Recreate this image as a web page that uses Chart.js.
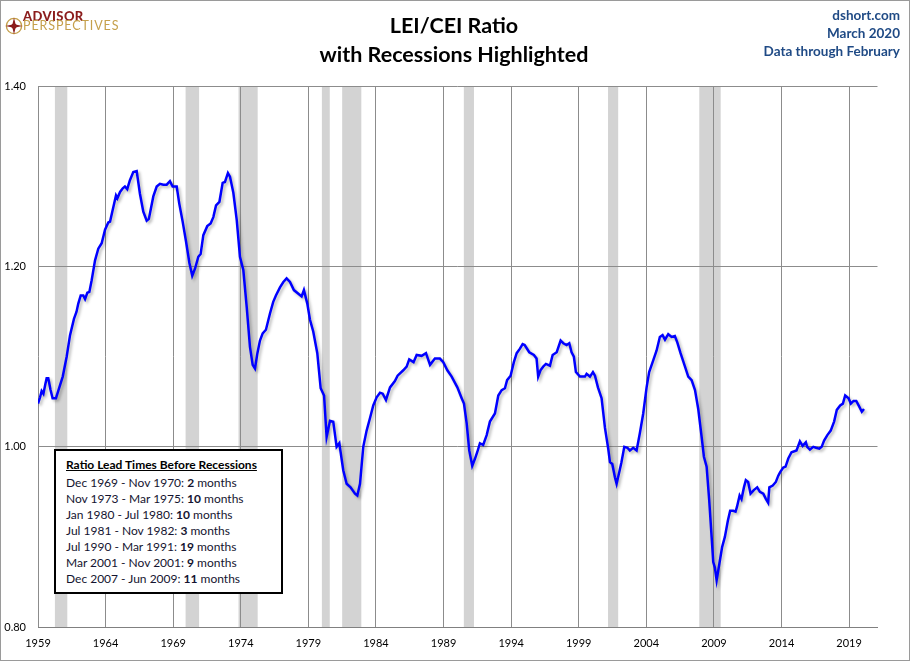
<!DOCTYPE html>
<html>
<head>
<meta charset="utf-8">
<script src="https://cdn.jsdelivr.net/npm/chart.js@4.4.1/dist/chart.umd.min.js"></script>
<style>
  html, body { margin: 0; padding: 0; background: #fff; }
  #wrap { position: relative; width: 910px; height: 661px; overflow: hidden; font-family: Lato, "Noto Sans", sans-serif; }
  #frame { position: absolute; left: 0; top: 0; width: 910px; height: 661px; box-sizing: border-box; border: 1px solid #9a9a9a; pointer-events: none; }
  #title { position: absolute; left: 0; top: 11px; width: 908px; text-align: center; font-size: 21.5px; font-weight: bold; line-height: 29px; color: #000; }
  #info { position: absolute; right: 10px; top: 6px; text-align: right; font-size: 13.5px; font-weight: bold; line-height: 18px; color: #1f4a85; }
  #logo { position: absolute; left: 0; top: 0; width: 140px; height: 40px; }
  #logo svg { position: absolute; left: 5px; top: 17px; }
  #logo .a { position: absolute; left: 23px; top: 9px; font-size: 13px; font-weight: 900; color: #8b1c1c; letter-spacing: 0.4px; white-space: nowrap; line-height: 14px; }
  #logo .p { position: absolute; left: 23px; top: 19px; font-size: 12.5px; color: #c5a04c; letter-spacing: 0.9px; white-space: nowrap; line-height: 14px; }
  #lead { position: absolute; left: 54px; top: 449px; width: 229px; height: 145px; box-sizing: border-box; border: 2px solid #000; background: #fff; padding: 6px 0 0 10px; font-size: 12px; line-height: 16px; color: #141430; }
  #lead .h { font-weight: bold; text-decoration: underline; color: #000; margin-bottom: 1.5px; }
  canvas { position: absolute; left: 0; top: 0; }
</style>
</head>
<body>
<div id="wrap">
  <canvas id="leiCei" width="910" height="661"></canvas>
  <div id="logo">
    <svg width="18" height="18" viewBox="0 0 18 18">
      <circle cx="9" cy="9" r="7.6" fill="none" stroke="#c5a04c" stroke-width="1.4"/>
      <polygon points="9,0.5 10.6,7.4 17.5,9 10.6,10.6 9,17.5 7.4,10.6 0.5,9 7.4,7.4" fill="#8b1c1c"/>
      <circle cx="9" cy="9" r="2.6" fill="#8b1c1c"/>
    </svg>
    <div class="a">ADVISOR</div>
    <div class="p">PERSPECTIVES</div>
  </div>
  <div id="title">LEI/CEI Ratio<br>with Recessions Highlighted</div>
  <div id="info">dshort.com<br>March 2020<br>Data through February</div>
  <div id="lead">
    <div class="h">Ratio Lead Times Before Recessions</div>
    <div>Dec 1969 - Nov 1970: <b>2</b> months</div>
    <div>Nov 1973 - Mar 1975: <b>10</b> months</div>
    <div>Jan 1980 - Jul 1980: <b>10</b> months</div>
    <div>Jul 1981 - Nov 1982: <b>3</b> months</div>
    <div>Jul 1990 - Mar 1991: <b>19</b> months</div>
    <div>Mar 2001 - Nov 2001: <b>9</b> months</div>
    <div>Dec 2007 - Jun 2009: <b>11</b> months</div>
  </div>
  <div id="frame"></div>
</div>
<script>
// dates as decimal years
var dates = [
  1959.00, 1959.15, 1959.27, 1959.40, 1959.55, 1959.64, 1959.76, 1959.93, 1960.08, 1960.33,
  1960.58, 1960.83, 1961.12, 1961.37, 1961.66, 1961.85, 1961.98, 1962.16, 1962.35, 1962.48,
  1962.65, 1962.80, 1962.97, 1963.22, 1963.46, 1963.71, 1963.96, 1964.20, 1964.33, 1964.57,
  1964.77, 1964.87, 1965.07, 1965.27, 1965.43, 1965.60, 1965.80, 1966.05, 1966.30, 1966.54,
  1966.79, 1967.04, 1967.20, 1967.53, 1967.78, 1968.02, 1968.27, 1968.52, 1968.76, 1968.96,
  1969.26, 1969.45, 1969.70, 1969.95, 1970.20, 1970.41, 1970.62, 1970.86, 1971.03, 1971.23,
  1971.52, 1971.77, 1971.97, 1972.17, 1972.42, 1972.66, 1972.83, 1973.05, 1973.20, 1973.45,
  1973.70, 1973.94, 1974.19, 1974.44, 1974.68, 1974.88, 1975.05, 1975.23, 1975.42, 1975.62,
  1975.86, 1976.16, 1976.40, 1976.60, 1976.90, 1977.15, 1977.39, 1977.64, 1977.93, 1978.26,
  1978.50, 1978.67, 1978.92, 1979.12, 1979.36, 1979.66, 1979.91, 1980.16, 1980.35, 1980.60,
  1980.84, 1981.09, 1981.29, 1981.58, 1981.83, 1982.12, 1982.45, 1982.62, 1982.82, 1983.06,
  1983.31, 1983.56, 1983.80, 1984.05, 1984.30, 1984.50, 1984.74, 1985.04, 1985.40, 1985.60,
  1986.02, 1986.27, 1986.46, 1986.78, 1987.01, 1987.38, 1987.70, 1988.00, 1988.36, 1988.73,
  1988.98, 1989.28, 1989.60, 1990.02, 1990.34, 1990.51, 1990.71, 1990.90, 1991.12, 1991.33,
  1991.49, 1991.69, 1991.93, 1992.19, 1992.43, 1992.80, 1993.05, 1993.30, 1993.54, 1993.70,
  1993.96, 1994.20, 1994.41, 1994.65, 1994.85, 1995.00, 1995.34, 1995.68, 1995.88, 1996.00,
  1996.17, 1996.37, 1996.57, 1996.87, 1997.07, 1997.37, 1997.66, 1997.86, 1998.10, 1998.30,
  1998.47, 1998.64, 1998.79, 1999.09, 1999.46, 1999.58, 1999.83, 2000.05, 2000.20, 2000.42,
  2000.69, 2000.94, 2001.18, 2001.31, 2001.48, 2001.68, 2001.80, 2002.00, 2002.16, 2002.37,
  2002.60, 2002.78, 2003.03, 2003.28, 2003.52, 2003.77, 2004.02, 2004.21, 2004.51, 2004.76,
  2005.00, 2005.20, 2005.38, 2005.62, 2005.87, 2006.11, 2006.29, 2006.53, 2006.86, 2007.10,
  2007.35, 2007.60, 2007.84, 2008.09, 2008.26, 2008.46, 2008.65, 2008.83, 2008.95, 2009.07,
  2009.20, 2009.40, 2009.61, 2009.81, 2010.03, 2010.20, 2010.43, 2010.60, 2010.70, 2010.90,
  2011.04, 2011.22, 2011.36, 2011.53, 2011.71, 2011.95, 2012.20, 2012.40, 2012.65, 2012.85,
  2013.01, 2013.10, 2013.35, 2013.58, 2013.76, 2013.90, 2014.13, 2014.30, 2014.50, 2014.74,
  2015.11, 2015.36, 2015.56, 2015.80, 2015.90, 2016.10, 2016.35, 2016.55, 2016.80, 2016.97,
  2017.15, 2017.39, 2017.64, 2017.89, 2018.09, 2018.34, 2018.54, 2018.71, 2018.96, 2019.13,
  2019.33, 2019.53, 2019.77, 2019.94, 2020.10
];
var ratio = [
  1.048, 1.055, 1.062, 1.059, 1.070, 1.076, 1.076, 1.063, 1.054, 1.054,
  1.066, 1.078, 1.100, 1.124, 1.142, 1.150, 1.159, 1.168, 1.168, 1.164,
  1.171, 1.172, 1.185, 1.207, 1.220, 1.226, 1.241, 1.249, 1.250, 1.266,
  1.279, 1.276, 1.283, 1.287, 1.289, 1.286, 1.296, 1.305, 1.306, 1.281,
  1.261, 1.251, 1.253, 1.278, 1.289, 1.292, 1.291, 1.291, 1.295, 1.289,
  1.289, 1.270, 1.250, 1.228, 1.204, 1.190, 1.198, 1.211, 1.214, 1.235,
  1.245, 1.248, 1.255, 1.268, 1.272, 1.293, 1.294, 1.304, 1.300, 1.282,
  1.252, 1.211, 1.196, 1.155, 1.111, 1.091, 1.087, 1.104, 1.118, 1.126,
  1.130, 1.148, 1.161, 1.168, 1.177, 1.183, 1.187, 1.183, 1.174, 1.170,
  1.167, 1.174, 1.159, 1.141, 1.128, 1.104, 1.065, 1.057, 1.011, 1.029,
  1.028, 1.000, 1.004, 0.974, 0.959, 0.955, 0.948, 0.946, 0.959, 1.000,
  1.018, 1.032, 1.046, 1.055, 1.060, 1.059, 1.052, 1.066, 1.073, 1.079,
  1.085, 1.089, 1.097, 1.094, 1.102, 1.101, 1.104, 1.091, 1.098, 1.098,
  1.094, 1.085, 1.078, 1.066, 1.054, 1.048, 1.026, 0.996, 0.979, 0.987,
  0.994, 1.004, 1.002, 1.013, 1.028, 1.037, 1.057, 1.063, 1.065, 1.074,
  1.079, 1.094, 1.104, 1.109, 1.114, 1.113, 1.105, 1.102, 1.098, 1.078,
  1.085, 1.089, 1.092, 1.090, 1.102, 1.105, 1.118, 1.115, 1.113, 1.115,
  1.105, 1.100, 1.083, 1.078, 1.078, 1.081, 1.078, 1.083, 1.079, 1.066,
  1.054, 1.021, 0.998, 0.983, 0.981, 0.966, 0.959, 0.972, 0.983, 1.000,
  0.999, 0.996, 0.999, 0.996, 1.015, 1.037, 1.066, 1.083, 1.096, 1.107,
  1.122, 1.124, 1.119, 1.125, 1.122, 1.123, 1.116, 1.104, 1.089, 1.078,
  1.074, 1.063, 1.042, 1.011, 0.989, 0.978, 0.941, 0.900, 0.872, 0.866,
  0.852, 0.870, 0.889, 0.900, 0.918, 0.929, 0.929, 0.928, 0.933, 0.946,
  0.942, 0.955, 0.963, 0.961, 0.948, 0.952, 0.955, 0.950, 0.948, 0.942,
  0.938, 0.955, 0.957, 0.961, 0.968, 0.972, 0.977, 0.978, 0.987, 0.994,
  0.996, 1.006, 1.001, 1.005, 1.000, 0.997, 1.000, 0.999, 0.998, 1.000,
  1.007, 1.013, 1.018, 1.028, 1.041, 1.046, 1.048, 1.057, 1.054, 1.048,
  1.051, 1.051, 1.044, 1.039, 1.042
];
// NBER recessions (start, end) as decimal years
var recessionStart = [1960.25, 1969.917, 1973.833, 1980.0, 1981.5, 1990.5, 2001.167, 2007.917];
var recessionEnd   = [1961.167, 1970.917, 1975.25, 1980.583, 1982.917, 1991.25, 2001.917, 2009.5];
var xTicks = [1959, 1964, 1969, 1974, 1979, 1984, 1989, 1994, 1999, 2004, 2009, 2014, 2019];
var yTicks = [0.80, 1.00, 1.20, 1.40];

var points = dates.map(function(d, i) { return { x: d, y: ratio[i] }; });

var recessionBands = {
  id: 'recessionBands',
  beforeDraw: function(chart) {
    var ctx = chart.ctx, area = chart.chartArea, xs = chart.scales.x;
    ctx.save();
    ctx.fillStyle = '#d3d3d3';
    for (var i = 0; i < recessionStart.length; i++) {
      var x0 = xs.getPixelForValue(recessionStart[i]);
      var x1 = xs.getPixelForValue(recessionEnd[i]);
      ctx.fillRect(x0, area.top, x1 - x0, area.bottom - area.top);
    }
    ctx.restore();
  }
};

var lineShadow = {
  id: 'lineShadow',
  beforeDatasetDraw: function(chart) {
    var ctx = chart.ctx;
    ctx.save();
    ctx.shadowColor = 'rgba(0,0,0,0.28)';
    ctx.shadowBlur = 3;
    ctx.shadowOffsetX = 2;
    ctx.shadowOffsetY = 2;
  },
  afterDatasetDraw: function(chart) {
    chart.ctx.restore();
  }
};

var ctx = document.getElementById('leiCei').getContext('2d');
var leiCeiChart = new Chart(ctx, {
  type: 'line',
  data: {
    datasets: [{
      label: 'LEI/CEI Ratio',
      data: points,
      borderColor: '#0000ff',
      borderWidth: 2.5,
      pointRadius: 0,
      tension: 0,
      fill: false
    }]
  },
  plugins: [recessionBands, lineShadow],
  options: {
    responsive: false,
    animation: false,
    layout: { padding: { top: 86.5, right: 32.5, left: 0, bottom: 0 } },
    plugins: { legend: { display: false }, tooltip: { enabled: false } },
    scales: {
      x: {
        type: 'linear',
        min: 1959,
        max: 2021.1,
        afterBuildTicks: function(s) { s.ticks = xTicks.map(function(v) { return { value: v }; }); },
        afterFit: function(s) { s.height = 34; },
        grid: { color: '#8c8c8c', lineWidth: 1, drawTicks: false },
        border: { color: '#808080', width: 1 },
        ticks: {
          padding: 10,
          color: '#000',
          font: { family: 'Lato', size: 11 },
          maxRotation: 0,
          callback: function(v) { return String(v); }
        }
      },
      y: {
        min: 0.8,
        max: 1.4,
        afterBuildTicks: function(s) { s.ticks = yTicks.map(function(v) { return { value: v }; }); },
        afterFit: function(s) { s.width = 38; },
        grid: { color: '#8c8c8c', lineWidth: 1, drawTicks: false },
        border: { display: false },
        ticks: {
          padding: 12,
          color: '#000',
          font: { family: 'Lato', size: 11 },
          callback: function(v) { return v.toFixed(2); }
        }
      }
    }
  }
});
</script>
</body>
</html>
